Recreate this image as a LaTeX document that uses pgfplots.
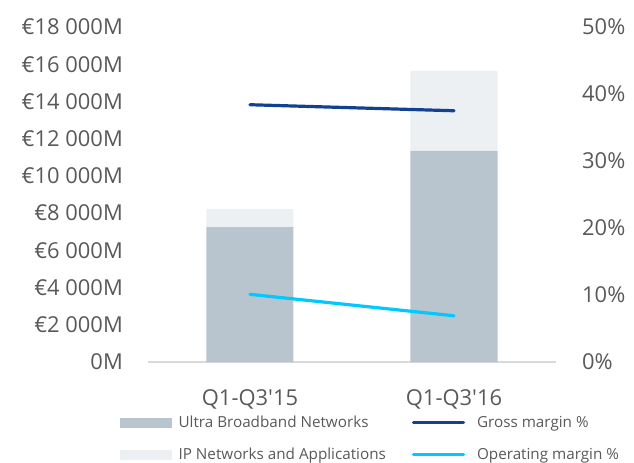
\documentclass[border=0pt]{standalone}
\usepackage{pgfplots}
\pgfplotsset{compat=1.18}
\usepackage{fontspec}
\setmainfont{Open Sans}
\definecolor{ubb}{HTML}{B8C5CE}
\definecolor{ipn}{HTML}{ECF0F3}
\definecolor{gross}{HTML}{124191}
\definecolor{opm}{HTML}{00C9FF}
\definecolor{txt}{HTML}{595959}
\definecolor{axl}{HTML}{D9D9D9}
\begin{document}
\begin{tikzpicture}
\path[use as bounding box] (-148bp,-101bp) rectangle (486bp,362bp);
\begin{axis}[
  scale only axis, width=408bp, height=335bp,
  xmin=-0.5, xmax=1.5, ymin=0, ymax=18000,
  ybar stacked, bar width=87bp,
  axis lines=left, axis line style={-},
  y axis line style={draw=none},
  x axis line style={draw=axl, line width=1.2bp},
  xtick={0,1}, xticklabels={Q1-Q3\textquotesingle15, Q1-Q3\textquotesingle16},
  ytick={0,2000,...,18000},
  yticklabels={0M, €2 000M, €4 000M, €6 000M, €8 000M, €10 000M, €12 000M, €14 000M, €16 000M, €18 000M},
  major tick length=0pt,
  tick label style={font=\fontsize{22}{26}\selectfont, text=txt},
  yticklabel style={inner sep=0pt, xshift=-25bp},
  xticklabel style={inner sep=0pt, anchor=north, yshift=-27bp},
  scaled y ticks=false,
  clip=false,
]
\addplot[fill=ubb, draw=none] coordinates {(0,7250) (1,11350)};
\addplot[fill=ipn, draw=none] coordinates {(0,970) (1,4290)};
\end{axis}
\begin{axis}[
  scale only axis, width=408bp, height=335bp,
  xmin=-0.5, xmax=1.5, ymin=0, ymax=50,
  axis x line=none, axis y line*=right,
  y axis line style={draw=none},
  ytick={0,10,...,50},
  yticklabels={0\%, 10\%, 20\%, 30\%, 40\%, 50\%},
  major tick length=0pt,
  yticklabel style={inner sep=0pt, xshift=26bp, font=\fontsize{22}{26}\selectfont, text=txt},
  clip=false,
  legend columns=2,
  legend cell align=left,
  legend style={draw=none, fill=none, inner sep=0pt,
    at={([xshift=-28bp,yshift=-52bp]axis description cs:0,0)}, anchor=north west,
    font=\fontsize{15.3}{18}\selectfont, text=txt, row sep=15bp,
    /tikz/every even column/.append style={column sep=24bp},
    /tikz/every odd column/.append style={column sep=5bp}},
]
\addlegendimage{legend image code/.code={\fill[ubb] (0bp,-4.5bp) rectangle (51bp,4.5bp);}}
\addlegendentry{Ultra Broadband Networks}
\addplot[gross, line width=3.2bp, line cap=round,
  legend image code/.code={\draw[gross, line width=3.2bp] (0bp,0bp) -- (50bp,0bp); \path (55bp,0bp);}]
  coordinates {(0,38.4) (1,37.5)};
\addlegendentry{Gross margin \%}
\addlegendimage{legend image code/.code={\fill[ipn] (0bp,-4.5bp) rectangle (51bp,4.5bp);}}
\addlegendentry{IP Networks and Applications}
\addplot[opm, line width=3.2bp, line cap=round,
  legend image code/.code={\draw[opm, line width=3.2bp] (0bp,0bp) -- (50bp,0bp); \path (55bp,0bp);}]
  coordinates {(0,10.1) (1,6.9)};
\addlegendentry{Operating margin \%}
\end{axis}
\end{tikzpicture}
\end{document}
